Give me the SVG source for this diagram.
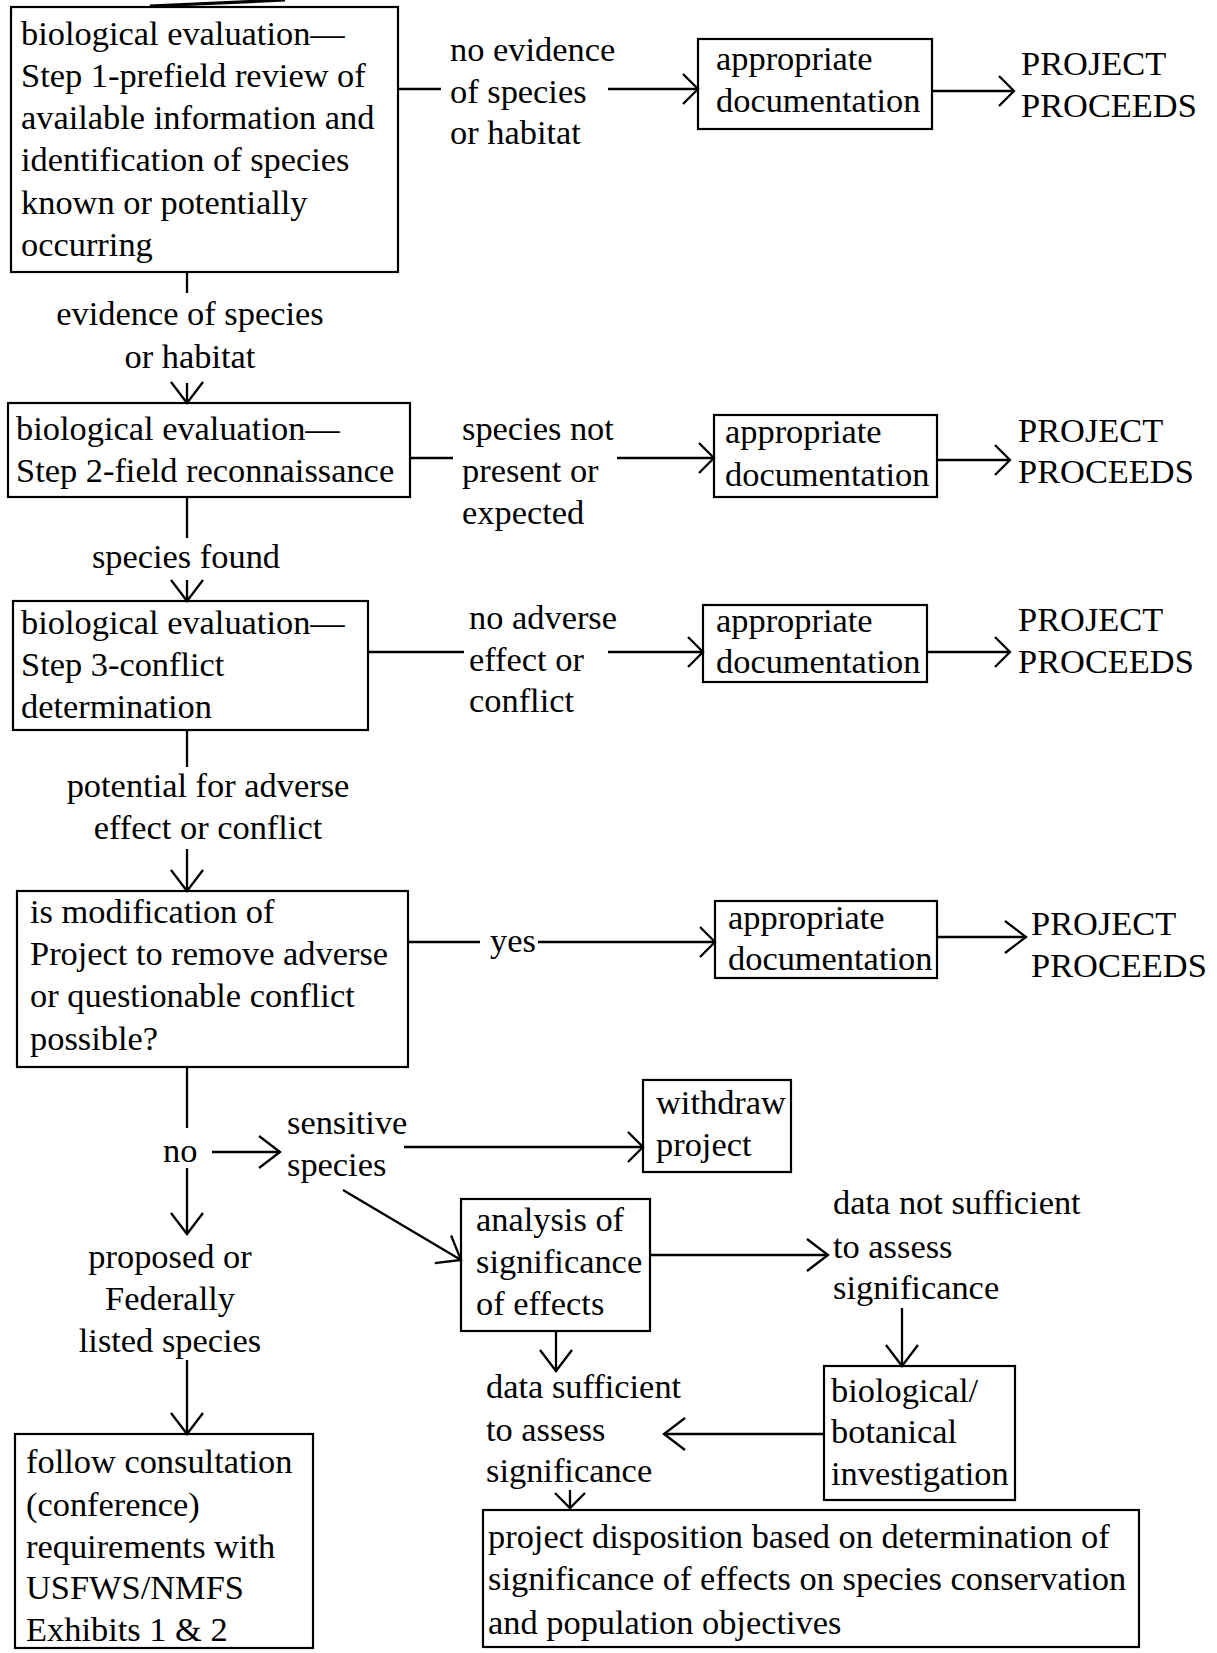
<svg xmlns="http://www.w3.org/2000/svg" width="1217" height="1653" viewBox="0 0 1217 1653">
<style>
.box{fill:none;stroke:#000;stroke-width:2.2}
.t{font-family:"Liberation Serif","Times New Roman",serif;font-size:34.4px;fill:#000}
.m{text-anchor:middle}
.c line,.c path{stroke:#000;stroke-width:2.3;fill:none}
</style>
<defs>
<marker id="ah" viewBox="-20 -18 22 36" markerWidth="22" markerHeight="36" refX="0" refY="0" orient="auto" markerUnits="userSpaceOnUse">
<path d="M-15,-15 L0,0 L-15,15" fill="none" stroke="#000" stroke-width="2.3"/>
</marker>
<marker id="ahL" viewBox="-26 -20 28 40" markerWidth="28" markerHeight="40" refX="0" refY="0" orient="auto" markerUnits="userSpaceOnUse">
<path d="M-21,-16 L0,0 L-21,16" fill="none" stroke="#000" stroke-width="2.3"/>
</marker>
</defs>
<rect width="1217" height="1653" fill="#fff"/>

<g id="connectors" class="c">
<line x1="150" y1="6" x2="285" y2="0" style="stroke-width:3.2"/>
<line x1="398" y1="89" x2="441" y2="89"/>
<line x1="608" y1="89" x2="698" y2="89" marker-end="url(#ah)"/>
<line x1="932" y1="91" x2="1014" y2="91" marker-end="url(#ah)"/>
<line x1="187" y1="272" x2="187" y2="293"/>
<line x1="187" y1="383" x2="187" y2="403" marker-end="url(#ahL)"/>
<line x1="410" y1="458" x2="453" y2="458"/>
<line x1="617" y1="458" x2="714" y2="458" marker-end="url(#ah)"/>
<line x1="937" y1="460" x2="1010" y2="460" marker-end="url(#ah)"/>
<line x1="187" y1="497" x2="187" y2="538"/>
<line x1="187" y1="580" x2="187" y2="601" marker-end="url(#ahL)"/>
<line x1="368" y1="652" x2="464" y2="652"/>
<line x1="608" y1="652" x2="703" y2="652" marker-end="url(#ah)"/>
<line x1="927" y1="652" x2="1010" y2="652" marker-end="url(#ah)"/>
<line x1="187" y1="730" x2="187" y2="767"/>
<line x1="187" y1="849" x2="187" y2="891" marker-end="url(#ahL)"/>
<line x1="408" y1="942" x2="480" y2="942"/>
<line x1="538" y1="942" x2="715" y2="942" marker-end="url(#ah)"/>
<line x1="937" y1="937" x2="1026" y2="937" marker-end="url(#ahL)"/>
<line x1="187" y1="1067" x2="187" y2="1128"/>
<line x1="212" y1="1152" x2="280" y2="1152" marker-end="url(#ahL)"/>
<line x1="404" y1="1147" x2="643" y2="1147" marker-end="url(#ah)"/>
<line x1="187" y1="1168" x2="187" y2="1234" marker-end="url(#ahL)"/>
<line x1="187" y1="1360" x2="187" y2="1434" marker-end="url(#ahL)"/>
<line x1="343" y1="1190" x2="461" y2="1260" marker-end="url(#ahL)"/>
<line x1="650" y1="1255" x2="828" y2="1255" marker-end="url(#ahL)"/>
<line x1="902" y1="1308" x2="902" y2="1366" marker-end="url(#ahL)"/>
<line x1="824" y1="1434" x2="664" y2="1434" marker-end="url(#ahL)"/>
<line x1="556" y1="1331" x2="556" y2="1371" marker-end="url(#ahL)"/>
<line x1="570" y1="1490" x2="570" y2="1508" marker-end="url(#ah)"/>
<g id="edge-labels">
<text class="t" x="450" y="61">no evidence</text>
<text class="t" x="450" y="103">of species</text>
<text class="t" x="450" y="144">or habitat</text>
<text class="t m" x="190" y="325">evidence of species</text>
<text class="t m" x="190" y="368">or habitat</text>
<text class="t" x="462" y="440">species not</text>
<text class="t" x="462" y="482">present or</text>
<text class="t" x="462" y="524">expected</text>
<text class="t m" x="186" y="568">species found</text>
<text class="t" x="469" y="629">no adverse</text>
<text class="t" x="469" y="671">effect or</text>
<text class="t" x="469" y="712">conflict</text>
<text class="t m" x="208" y="797">potential for adverse</text>
<text class="t m" x="208" y="839">effect or conflict</text>
<text class="t" x="490" y="952">yes</text>
<text class="t" x="163" y="1162">no</text>
<text class="t" x="287" y="1134">sensitive</text>
<text class="t" x="287" y="1176">species</text>
<text class="t m" x="170" y="1268">proposed or</text>
<text class="t m" x="170" y="1310">Federally</text>
<text class="t m" x="170" y="1352">listed species</text>
<text class="t" x="833" y="1214">data not sufficient</text>
<text class="t" x="833" y="1258">to assess</text>
<text class="t" x="833" y="1299">significance</text>
<text class="t" x="486" y="1398">data sufficient</text>
<text class="t" x="486" y="1441">to assess</text>
<text class="t" x="486" y="1482">significance</text>
</g>
</g>

<g id="step1">
<rect class="box" x="11" y="7" width="387" height="265"/>
<text class="t" x="21" y="45">biological evaluation—</text>
<text class="t" x="21" y="87">Step 1-prefield review of</text>
<text class="t" x="21" y="129">available information and</text>
<text class="t" x="21" y="171">identification of species</text>
<text class="t" x="21" y="214">known or potentially</text>
<text class="t" x="21" y="256">occurring</text>
</g>
<g id="doc1">
<rect class="box" x="698" y="39" width="234" height="90"/>
<text class="t" x="716" y="70">appropriate</text>
<text class="t" x="716" y="112">documentation</text>
</g>
<g id="proceed1">
<text class="t" x="1021" y="75">PROJECT</text>
<text class="t" x="1021" y="117">PROCEEDS</text>
</g>

<g id="step2">
<rect class="box" x="8" y="403" width="402" height="94"/>
<text class="t" x="16" y="440">biological evaluation—</text>
<text class="t" x="16" y="482">Step 2-field reconnaissance</text>
</g>
<g id="doc2">
<rect class="box" x="714" y="415" width="223" height="82"/>
<text class="t" x="725" y="443">appropriate</text>
<text class="t" x="725" y="486">documentation</text>
</g>
<g id="proceed2">
<text class="t" x="1018" y="442">PROJECT</text>
<text class="t" x="1018" y="483">PROCEEDS</text>
</g>

<g id="step3">
<rect class="box" x="13" y="601" width="355" height="129"/>
<text class="t" x="21" y="634">biological evaluation—</text>
<text class="t" x="21" y="676">Step 3-conflict</text>
<text class="t" x="21" y="718">determination</text>
</g>
<g id="doc3">
<rect class="box" x="703" y="605" width="224" height="77"/>
<text class="t" x="716" y="632">appropriate</text>
<text class="t" x="716" y="673">documentation</text>
</g>
<g id="proceed3">
<text class="t" x="1018" y="631">PROJECT</text>
<text class="t" x="1018" y="673">PROCEEDS</text>
</g>

<g id="modification">
<rect class="box" x="17" y="891" width="391" height="176"/>
<text class="t" x="30" y="923">is modification of</text>
<text class="t" x="30" y="965">Project to remove adverse</text>
<text class="t" x="30" y="1007">or questionable conflict</text>
<text class="t" x="30" y="1050">possible?</text>
</g>
<g id="doc4">
<rect class="box" x="715" y="901" width="222" height="77"/>
<text class="t" x="728" y="929">appropriate</text>
<text class="t" x="728" y="970">documentation</text>
</g>
<g id="proceed4">
<text class="t" x="1031" y="935">PROJECT</text>
<text class="t" x="1031" y="977">PROCEEDS</text>
</g>

<g id="withdraw">
<rect class="box" x="643" y="1080" width="148" height="92"/>
<text class="t" x="656" y="1114">withdraw</text>
<text class="t" x="656" y="1156">project</text>
</g>
<g id="analysis">
<rect class="box" x="461" y="1199" width="189" height="132"/>
<text class="t" x="476" y="1231">analysis of</text>
<text class="t" x="476" y="1273">significance</text>
<text class="t" x="476" y="1315">of effects</text>
</g>
<g id="investigation">
<rect class="box" x="824" y="1366" width="191" height="134"/>
<text class="t" x="831" y="1402">biological/</text>
<text class="t" x="831" y="1443">botanical</text>
<text class="t" x="831" y="1485">investigation</text>
</g>
<g id="consultation">
<rect class="box" x="15" y="1434" width="298" height="214"/>
<text class="t" x="26" y="1473">follow consultation</text>
<text class="t" x="26" y="1516">(conference)</text>
<text class="t" x="26" y="1558">requirements with</text>
<text class="t" x="26" y="1599">USFWS/NMFS</text>
<text class="t" x="26" y="1641">Exhibits 1 &amp; 2</text>
</g>
<g id="disposition">
<rect class="box" x="483" y="1510" width="656" height="137"/>
<text class="t" x="488" y="1548">project disposition based on determination of</text>
<text class="t" x="488" y="1590">significance of effects on species conservation</text>
<text class="t" x="488" y="1634">and population objectives</text>
</g>
</svg>
